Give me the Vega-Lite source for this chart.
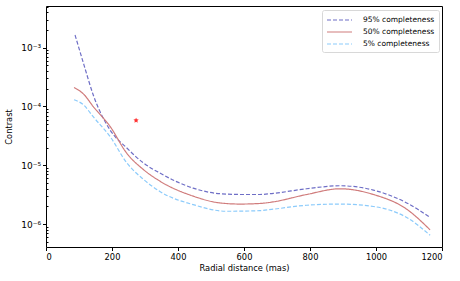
{
  "$schema": "https://vega.github.io/schema/vega-lite/v6.json",
  "autosize": {"type": "none"},
  "padding": {"left": 46, "top": 6, "right": 18, "bottom": 34},
  "width": 396,
  "height": 241,
  "background": "white",
  "config": {
    "view": {"stroke": "black", "strokeWidth": 1},
    "font": "DejaVu Sans",
    "axis": {"labelFont": "DejaVu Sans", "titleFont": "DejaVu Sans", "labelFontSize": 8.3, "titleFontSize": 8.3, "titleFontWeight": "normal", "labelColor": "black", "titleColor": "black", "tickColor": "black", "domainColor": "black", "grid": false}
  },
  "datasets": {
    "curves": [
      {"series": "95% completeness", "r": 88, "c": 1.64e-3},
      {"series": "95% completeness", "r": 115, "c": 5.1e-4},
      {"series": "95% completeness", "r": 143, "c": 1.58e-4},
      {"series": "95% completeness", "r": 194, "c": 4.0e-5},
      {"series": "95% completeness", "r": 245, "c": 1.97e-5},
      {"series": "95% completeness", "r": 295, "c": 1.1e-5},
      {"series": "95% completeness", "r": 345, "c": 7.4e-6},
      {"series": "95% completeness", "r": 446, "c": 4.1e-6},
      {"series": "95% completeness", "r": 527, "c": 3.3e-6},
      {"series": "95% completeness", "r": 588, "c": 3.2e-6},
      {"series": "95% completeness", "r": 648, "c": 3.2e-6},
      {"series": "95% completeness", "r": 689, "c": 3.35e-6},
      {"series": "95% completeness", "r": 790, "c": 4.0e-6},
      {"series": "95% completeness", "r": 891, "c": 4.5e-6},
      {"series": "95% completeness", "r": 992, "c": 3.8e-6},
      {"series": "95% completeness", "r": 1093, "c": 2.3e-6},
      {"series": "95% completeness", "r": 1164, "c": 1.3e-6},
      {"series": "50% completeness", "r": 85, "c": 2.1e-4},
      {"series": "50% completeness", "r": 115, "c": 1.6e-4},
      {"series": "50% completeness", "r": 143, "c": 1.0e-4},
      {"series": "50% completeness", "r": 194, "c": 4.6e-5},
      {"series": "50% completeness", "r": 245, "c": 1.6e-5},
      {"series": "50% completeness", "r": 295, "c": 8.5e-6},
      {"series": "50% completeness", "r": 345, "c": 5.4e-6},
      {"series": "50% completeness", "r": 446, "c": 3.0e-6},
      {"series": "50% completeness", "r": 527, "c": 2.3e-6},
      {"series": "50% completeness", "r": 588, "c": 2.2e-6},
      {"series": "50% completeness", "r": 648, "c": 2.25e-6},
      {"series": "50% completeness", "r": 689, "c": 2.4e-6},
      {"series": "50% completeness", "r": 790, "c": 3.2e-6},
      {"series": "50% completeness", "r": 891, "c": 4.0e-6},
      {"series": "50% completeness", "r": 992, "c": 3.2e-6},
      {"series": "50% completeness", "r": 1093, "c": 1.8e-6},
      {"series": "50% completeness", "r": 1164, "c": 8.0e-7},
      {"series": "5% completeness", "r": 85, "c": 1.3e-4},
      {"series": "5% completeness", "r": 115, "c": 1.05e-4},
      {"series": "5% completeness", "r": 143, "c": 6.7e-5},
      {"series": "5% completeness", "r": 194, "c": 3.1e-5},
      {"series": "5% completeness", "r": 245, "c": 1.1e-5},
      {"series": "5% completeness", "r": 295, "c": 5.8e-6},
      {"series": "5% completeness", "r": 345, "c": 3.6e-6},
      {"series": "5% completeness", "r": 446, "c": 2.15e-6},
      {"series": "5% completeness", "r": 548, "c": 1.66e-6},
      {"series": "5% completeness", "r": 648, "c": 1.7e-6},
      {"series": "5% completeness", "r": 689, "c": 1.8e-6},
      {"series": "5% completeness", "r": 790, "c": 2.1e-6},
      {"series": "5% completeness", "r": 891, "c": 2.2e-6},
      {"series": "5% completeness", "r": 992, "c": 2.0e-6},
      {"series": "5% completeness", "r": 1093, "c": 1.3e-6},
      {"series": "5% completeness", "r": 1164, "c": 6.5e-7}
    ],
    "star": [{"r": 273, "c": 5.8e-5}]
  },
  "resolve": {"scale": {"y": "shared"}, "axis": {"y": "independent"}},
  "layer": [
    {
      "data": {"name": "curves"},
      "mark": {"type": "line", "interpolate": "monotone", "strokeWidth": 1.2, "clip": true},
      "encoding": {
        "x": {"field": "r", "type": "quantitative", "scale": {"domain": [0, 1200], "nice": false, "zero": false},
              "axis": {"title": "Radial distance (mas)", "format": "d", "values": [0, 200, 400, 600, 800, 1000, 1200], "tickSize": 3.5, "labelPadding": 2, "titlePadding": 3, "domain": false}},
        "y": {"field": "c", "type": "quantitative", "scale": {"type": "log", "domain": [4.1e-7, 5.1e-3], "nice": false},
              "axis": {"title": "Contrast", "orient": "left", "values": [1e-6, 1e-5, 1e-4, 1e-3], "tickSize": 3.5, "labelPadding": 2, "titlePadding": 7, "domain": false, "labelFontSize": 9,
                       "labelExpr": "datum.value < 5e-6 ? '10⁻⁶' : datum.value < 5e-5 ? '10⁻⁵' : datum.value < 5e-4 ? '10⁻⁴' : '10⁻³'"}},
        "color": {"field": "series", "type": "nominal",
                  "scale": {"domain": ["95% completeness", "50% completeness", "5% completeness"], "range": ["#6e6ec6", "#d07c7c", "#8ccbfb"]},
                  "legend": {"title": null, "orient": "none", "legendX": 276, "legendY": 4, "symbolType": "M-1,0L4,0", "symbolSize": 100, "symbolStrokeWidth": 1.2, "labelFontSize": 7.5, "labelFont": "DejaVu Sans", "labelColor": "black", "rowPadding": 2, "padding": 4, "strokeColor": "#d8d8d8", "fillColor": "white", "cornerRadius": 2, "labelOffset": 25}},
        "strokeDash": {"field": "series", "type": "nominal",
                       "scale": {"domain": ["95% completeness", "50% completeness", "5% completeness"], "range": [[4, 2], [1, 0], [4, 2]]},
                       "legend": null}
      }
    },
    {
      "data": {"name": "star"},
      "mark": {"type": "point", "shape": "M0,-1L0.29,-0.4L0.95,-0.31L0.48,0.15L0.59,0.81L0,0.5L-0.59,0.81L-0.48,0.15L-0.95,-0.31L-0.29,-0.4Z", "filled": true, "color": "red", "opacity": 0.8, "size": 30},
      "encoding": {
        "x": {"field": "r", "type": "quantitative"},
        "y": {"field": "c", "type": "quantitative",
              "axis": {"title": null, "orient": "left", "labels": false, "domain": false, "tickSize": 2, "offset": -2,
                       "values": [5e-7, 6e-7, 7e-7, 8e-7, 9e-7, 2e-6, 3e-6, 4e-6, 5e-6, 6e-6, 7e-6, 8e-6, 9e-6, 2e-5, 3e-5, 4e-5, 5e-5, 6e-5, 7e-5, 8e-5, 9e-5, 2e-4, 3e-4, 4e-4, 5e-4, 6e-4, 7e-4, 8e-4, 9e-4, 2e-3, 3e-3, 4e-3, 5e-3]}}
      }
    }
  ]
}
